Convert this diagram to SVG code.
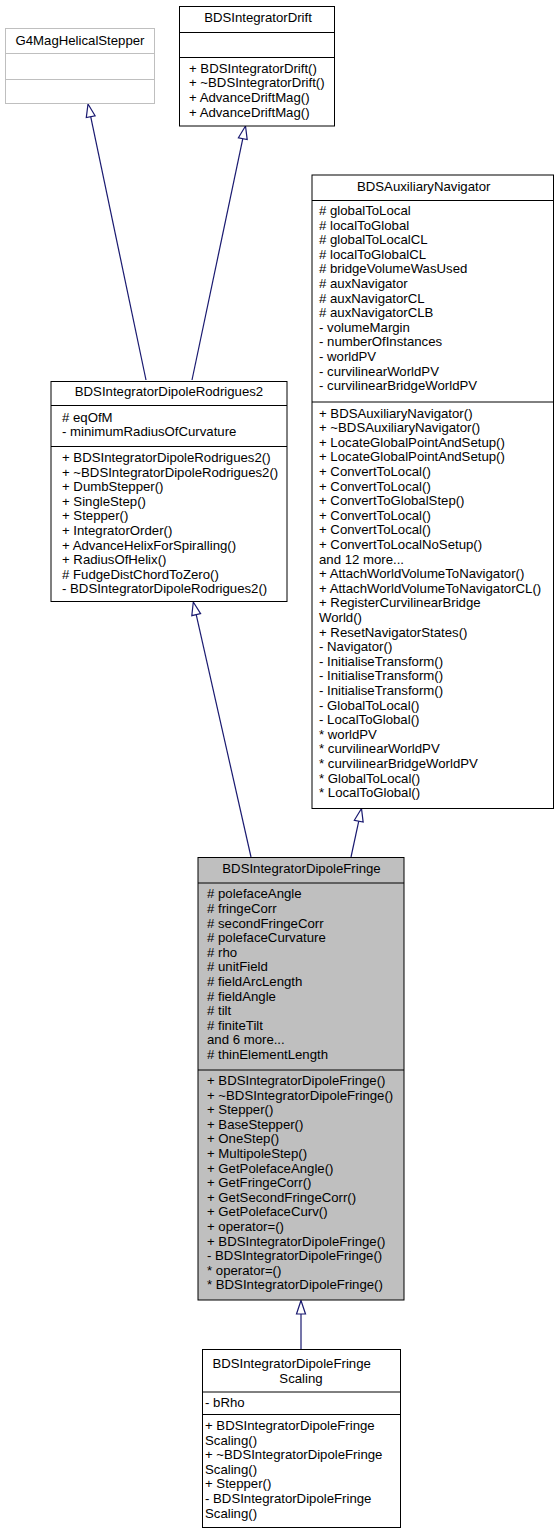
<svg xmlns="http://www.w3.org/2000/svg" width="560" height="1535" viewBox="0 0 560 1535">
<style>
text{font-family:"Liberation Sans",Arial,Helvetica,sans-serif;font-size:13.2px;fill:#000}
.c{text-anchor:middle}
.box{fill:#fff;stroke:#000;stroke-width:1}
.ext{fill:#fff;stroke:#bfbfbf;stroke-width:1}
.cur{fill:#bfbfbf;stroke:#000;stroke-width:1}
.div{stroke:#000;stroke-width:1}
.divg{stroke:#bfbfbf;stroke-width:1}
.edge{fill:none;stroke:#191970;stroke-width:1.2}
.head{fill:#fff;stroke:#191970;stroke-width:1.2}
</style>
<rect width="560" height="1535" fill="#fff"/>
<g id="connectors">
<path class="edge" d="M146,380 L90.7,116.7"/>
<polygon class="head" points="88,104 95.1,115.8 86.3,117.6"/>
<path class="edge" d="M192,380 L242.8,138.7"/>
<polygon class="head" points="245.5,126 247.2,139.6 238.4,137.8"/>
<path class="edge" d="M251,857 L196.2,614.7"/>
<polygon class="head" points="193.3,602 200.6,613.7 191.8,615.7"/>
<path class="edge" d="M351,857 L358.75,821.2"/>
<polygon class="head" points="361.5,808.5 363.15,822.1 354.35,820.3"/>
<path class="edge" d="M301,1349 L301,1314"/>
<polygon class="head" points="301,1300.5 305.5,1314 296.5,1314"/>
</g>
<g id="G4MagHelicalStepper">
<rect class="ext" x="5.5" y="28.5" width="149" height="75"/>
<line class="divg" x1="5.5" y1="53.5" x2="154.5" y2="53.5"/>
<line class="divg" x1="5.5" y1="79.5" x2="154.5" y2="79.5"/>
<text class="c" x="80" y="44.5">G4MagHelicalStepper</text>
</g>
<g id="BDSIntegratorDrift">
<rect class="box" x="179.5" y="6.5" width="155" height="119.5"/>
<line class="div" x1="179.5" y1="32.5" x2="334.5" y2="32.5"/>
<line class="div" x1="179.5" y1="57.5" x2="334.5" y2="57.5"/>
<text class="c" x="258" y="22">BDSIntegratorDrift</text>
<text x="189" y="72.7">+ BDSIntegratorDrift()</text>
<text x="189" y="87.3">+ ~BDSIntegratorDrift()</text>
<text x="189" y="101.9">+ AdvanceDriftMag()</text>
<text x="189" y="116.5">+ AdvanceDriftMag()</text>
</g>
<g id="BDSAuxiliaryNavigator">
<rect class="box" x="312" y="175" width="241.5" height="633.5"/>
<line class="div" x1="312" y1="200.5" x2="553.5" y2="200.5"/>
<line class="div" x1="312" y1="402" x2="553.5" y2="402"/>
<text x="357" y="190.5">BDSAuxiliaryNavigator</text>
<text x="319" y="215">
<tspan x="319" y="215"># globalToLocal</tspan>
<tspan x="319" y="229.6"># localToGlobal</tspan>
<tspan x="319" y="244.2"># globalToLocalCL</tspan>
<tspan x="319" y="258.8"># localToGlobalCL</tspan>
<tspan x="319" y="273.4"># bridgeVolumeWasUsed</tspan>
<tspan x="319" y="288"># auxNavigator</tspan>
<tspan x="319" y="302.6"># auxNavigatorCL</tspan>
<tspan x="319" y="317.2"># auxNavigatorCLB</tspan>
<tspan x="319" y="331.8">- volumeMargin</tspan>
<tspan x="319" y="346.4">- numberOfInstances</tspan>
<tspan x="319" y="361">- worldPV</tspan>
<tspan x="319" y="375.6">- curvilinearWorldPV</tspan>
<tspan x="319" y="390.2">- curvilinearBridgeWorldPV</tspan>
</text>
<text x="319" y="417.5">
<tspan x="319" y="417.5">+ BDSAuxiliaryNavigator()</tspan>
<tspan x="319" y="432.1">+ ~BDSAuxiliaryNavigator()</tspan>
<tspan x="319" y="446.7">+ LocateGlobalPointAndSetup()</tspan>
<tspan x="319" y="461.3">+ LocateGlobalPointAndSetup()</tspan>
<tspan x="319" y="475.9">+ ConvertToLocal()</tspan>
<tspan x="319" y="490.5">+ ConvertToLocal()</tspan>
<tspan x="319" y="505.1">+ ConvertToGlobalStep()</tspan>
<tspan x="319" y="519.7">+ ConvertToLocal()</tspan>
<tspan x="319" y="534.3">+ ConvertToLocal()</tspan>
<tspan x="319" y="548.9">+ ConvertToLocalNoSetup()</tspan>
<tspan x="319" y="563.5">and 12 more...</tspan>
<tspan x="319" y="578.1">+ AttachWorldVolumeToNavigator()</tspan>
<tspan x="319" y="592.7">+ AttachWorldVolumeToNavigatorCL()</tspan>
<tspan x="319" y="607.3">+ RegisterCurvilinearBridge</tspan>
<tspan x="319" y="621.9">World()</tspan>
<tspan x="319" y="636.5">+ ResetNavigatorStates()</tspan>
<tspan x="319" y="651.1">- Navigator()</tspan>
<tspan x="319" y="665.7">- InitialiseTransform()</tspan>
<tspan x="319" y="680.3">- InitialiseTransform()</tspan>
<tspan x="319" y="694.9">- InitialiseTransform()</tspan>
<tspan x="319" y="709.5">- GlobalToLocal()</tspan>
<tspan x="319" y="724.1">- LocalToGlobal()</tspan>
<tspan x="319" y="738.7">* worldPV</tspan>
<tspan x="319" y="753.3">* curvilinearWorldPV</tspan>
<tspan x="319" y="767.9">* curvilinearBridgeWorldPV</tspan>
<tspan x="319" y="782.5">* GlobalToLocal()</tspan>
<tspan x="319" y="797.1">* LocalToGlobal()</tspan>
</text>
</g>
<g id="BDSIntegratorDipoleRodrigues2">
<rect class="box" x="51" y="381.5" width="236" height="220"/>
<line class="div" x1="51" y1="405.5" x2="287" y2="405.5"/>
<line class="div" x1="51" y1="446.5" x2="287" y2="446.5"/>
<text class="c" x="169" y="396">BDSIntegratorDipoleRodrigues2</text>
<text x="62" y="421.5">
<tspan x="62" y="421.5"># eqOfM</tspan>
<tspan x="62" y="436.1">- minimumRadiusOfCurvature</tspan>
</text>
<text x="62" y="462">
<tspan x="62" y="462">+ BDSIntegratorDipoleRodrigues2()</tspan>
<tspan x="62" y="476.6">+ ~BDSIntegratorDipoleRodrigues2()</tspan>
<tspan x="62" y="491.2">+ DumbStepper()</tspan>
<tspan x="62" y="505.8">+ SingleStep()</tspan>
<tspan x="62" y="520.4">+ Stepper()</tspan>
<tspan x="62" y="535">+ IntegratorOrder()</tspan>
<tspan x="62" y="549.6">+ AdvanceHelixForSpiralling()</tspan>
<tspan x="62" y="564.2">+ RadiusOfHelix()</tspan>
<tspan x="62" y="578.8"># FudgeDistChordToZero()</tspan>
<tspan x="62" y="593.4">- BDSIntegratorDipoleRodrigues2()</tspan>
</text>
</g>
<g id="BDSIntegratorDipoleFringe">
<rect class="cur" x="198" y="857.5" width="206" height="442.5"/>
<line class="div" x1="198" y1="883" x2="404" y2="883"/>
<line class="div" x1="198" y1="1070" x2="404" y2="1070"/>
<text class="c" x="301.5" y="873">BDSIntegratorDipoleFringe</text>
<text x="207" y="898.3">
<tspan x="207" y="898.3"># polefaceAngle</tspan>
<tspan x="207" y="912.9"># fringeCorr</tspan>
<tspan x="207" y="927.5"># secondFringeCorr</tspan>
<tspan x="207" y="942.1"># polefaceCurvature</tspan>
<tspan x="207" y="956.7"># rho</tspan>
<tspan x="207" y="971.3"># unitField</tspan>
<tspan x="207" y="985.9"># fieldArcLength</tspan>
<tspan x="207" y="1000.5"># fieldAngle</tspan>
<tspan x="207" y="1015.1"># tilt</tspan>
<tspan x="207" y="1029.7"># finiteTilt</tspan>
<tspan x="207" y="1044.3">and 6 more...</tspan>
<tspan x="207" y="1058.9"># thinElementLength</tspan>
</text>
<text x="207" y="1085">
<tspan x="207" y="1085">+ BDSIntegratorDipoleFringe()</tspan>
<tspan x="207" y="1099.6">+ ~BDSIntegratorDipoleFringe()</tspan>
<tspan x="207" y="1114.2">+ Stepper()</tspan>
<tspan x="207" y="1128.8">+ BaseStepper()</tspan>
<tspan x="207" y="1143.4">+ OneStep()</tspan>
<tspan x="207" y="1158">+ MultipoleStep()</tspan>
<tspan x="207" y="1172.6">+ GetPolefaceAngle()</tspan>
<tspan x="207" y="1187.2">+ GetFringeCorr()</tspan>
<tspan x="207" y="1201.8">+ GetSecondFringeCorr()</tspan>
<tspan x="207" y="1216.4">+ GetPolefaceCurv()</tspan>
<tspan x="207" y="1231">+ operator=()</tspan>
<tspan x="207" y="1245.6">+ BDSIntegratorDipoleFringe()</tspan>
<tspan x="207" y="1260.2">- BDSIntegratorDipoleFringe()</tspan>
<tspan x="207" y="1274.8">* operator=()</tspan>
<tspan x="207" y="1289.4">* BDSIntegratorDipoleFringe()</tspan>
</text>
</g>
<g id="BDSIntegratorDipoleFringeScaling">
<rect class="box" x="202.5" y="1349.5" width="198" height="178"/>
<line class="div" x1="202.5" y1="1392" x2="400.5" y2="1392"/>
<line class="div" x1="202.5" y1="1414.5" x2="400.5" y2="1414.5"/>
<text x="212.5" y="1368.3">BDSIntegratorDipoleFringe</text>
<text class="c" x="301" y="1382.9">Scaling</text>
<text x="205" y="1407">- bRho</text>
<text x="205" y="1430">
<tspan x="205" y="1430">+ BDSIntegratorDipoleFringe</tspan>
<tspan x="205" y="1444.6">Scaling()</tspan>
<tspan x="205" y="1459.2">+ ~BDSIntegratorDipoleFringe</tspan>
<tspan x="205" y="1473.8">Scaling()</tspan>
<tspan x="205" y="1488.4">+ Stepper()</tspan>
<tspan x="205" y="1503">- BDSIntegratorDipoleFringe</tspan>
<tspan x="205" y="1517.6">Scaling()</tspan>
</text>
</g>
</svg>
